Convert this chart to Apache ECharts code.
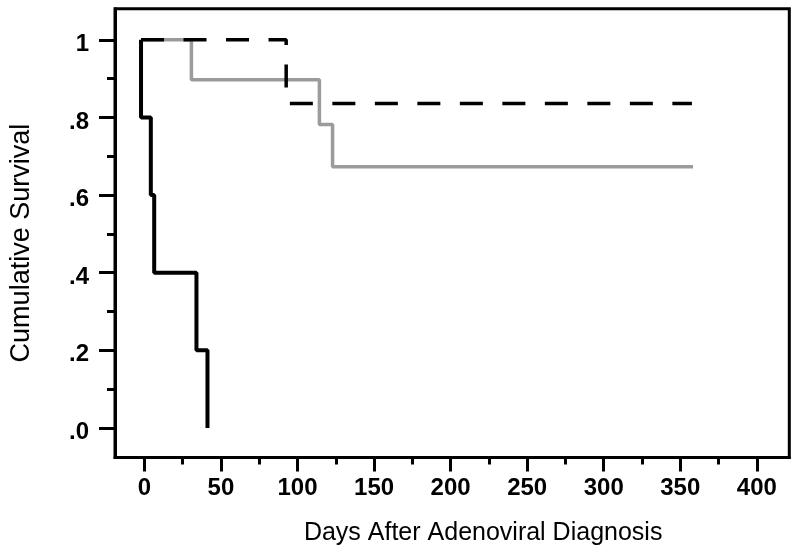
<!DOCTYPE html>
<html>
<head>
<meta charset="utf-8">
<script src="https://cdn.jsdelivr.net/npm/echarts@6/dist/echarts.min.js"></script>
<style>
html,body{margin:0;padding:0;background:#fff;}
#chart{width:800px;height:556px;}
</style>
</head>
<body>
<div id="chart"></div>
<script>
// ---- Data (days, cumulative survival after each step) ----
const grayDays = [-2.2, 30.7, 114.3, 122.9, 358.3];
const graySurv = [1, 0.897, 0.782, 0.673, 0.673];

const dashedDays = [-2.2, 92.6, 357.6];
const dashedSurv = [1, 0.836, 0.836];

const blackDays = [-2.2, -2.2, 4.2, 6.4, 34.0, 41.2];
const blackSurv = [1, 0.8, 0.6, 0.4, 0.2, 0];

// ---- Tick values / labels ----
const xMajorTicks = [0, 50, 100, 150, 200, 250, 300, 350, 400];
const xMinorTicks = [25, 75, 125, 175, 225, 275, 325, 375];
const yMajorTicks = [0, 0.2, 0.4, 0.6, 0.8, 1];
const yMajorLabels = ['.0', '.2', '.4', '.6', '.8', '1'];
const yMinorTicks = [0.1, 0.3, 0.5, 0.7, 0.9];

const xTitle = 'Days After Adenoviral Diagnosis';
const yTitle = 'Cumulative Survival';

function pts(xs, ys) { return xs.map((x, i) => [x, ys[i]]); }

const X_MIN = -19.2, X_MAX = 421.2;
const Y_MIN = -0.076, Y_MAX = 1.08;
const FONT = '"Liberation Sans", Arial, Helvetica, sans-serif';

const chart = echarts.init(document.getElementById('chart'), null, {renderer: 'canvas'});
chart.setOption({
  animation: false,
  backgroundColor: '#fff',
  grid: {
    left: 113.3, right: 10.7, top: 8.7, bottom: 98.5,
    show: true, borderColor: '#000', borderWidth: 3, backgroundColor: 'transparent'
  },
  xAxis: [
    {
      type: 'value', min: X_MIN, max: X_MAX, position: 'bottom',
      axisLine: {show: true, onZero: false, lineStyle: {color: '#000', width: 3}},
      axisTick: {show: true, customValues: xMajorTicks, length: 14, lineStyle: {color: '#000', width: 3}},
      axisLabel: {show: true, customValues: xMajorTicks, margin: 19,
        color: '#000', fontFamily: FONT, fontWeight: 'bold', fontSize: 24},
      splitLine: {show: false},
      name: xTitle, nameLocation: 'middle', nameGap: 63,
      nameTextStyle: {color: '#000', fontFamily: FONT, fontSize: 25, padding: [0, 0, 0, 62]}
    },
    {
      type: 'value', min: X_MIN, max: X_MAX, position: 'bottom', offset: 0,
      axisLine: {show: false, onZero: false},
      axisTick: {show: true, customValues: xMinorTicks, length: 7, lineStyle: {color: '#000', width: 3}},
      axisLabel: {show: false},
      splitLine: {show: false}
    }
  ],
  yAxis: [
    {
      type: 'value', min: Y_MIN, max: Y_MAX, position: 'left',
      axisLine: {show: true, onZero: false, lineStyle: {color: '#000', width: 3}},
      axisTick: {show: true, customValues: yMajorTicks, length: 16, lineStyle: {color: '#000', width: 3}},
      axisLabel: {show: true, customValues: yMajorTicks, margin: 26,
        color: '#000', fontFamily: FONT, fontWeight: 'bold', fontSize: 24,
        verticalAlign: 'top', lineHeight: 9,
        formatter: function (v) {
          const i = yMajorTicks.findIndex(t => Math.abs(t - v) < 1e-6);
          return i >= 0 ? yMajorLabels[i] : '';
        }},
      splitLine: {show: false},
      name: yTitle, nameLocation: 'middle', nameGap: 80, nameRotate: 90,
      nameTextStyle: {color: '#000', fontFamily: FONT, fontSize: 27, padding: [0, 20, 0, 0]}
    },
    {
      type: 'value', min: Y_MIN, max: Y_MAX, position: 'left', offset: 0,
      axisLine: {show: false, onZero: false},
      axisTick: {show: true, customValues: yMinorTicks, length: 8, lineStyle: {color: '#000', width: 3}},
      axisLabel: {show: false},
      splitLine: {show: false}
    }
  ],
  series: [
    {
      type: 'line', step: 'end', data: pts(grayDays, graySurv),
      showSymbol: false, symbol: 'none', clip: false,
      lineStyle: {color: '#9b9b9b', width: 3.5, cap: 'butt'}, z: 2
    },
    {
      type: 'line', step: 'end', data: pts(dashedDays, dashedSurv),
      showSymbol: false, symbol: 'none', clip: false,
      lineStyle: {color: '#000', width: 3.5, type: [23, 19.5], cap: 'butt'}, z: 3
    },
    {
      type: 'line', step: 'end', data: pts(blackDays, blackSurv),
      showSymbol: false, symbol: 'none', clip: false,
      lineStyle: {color: '#000', width: 4, cap: 'butt'}, z: 4
    }
  ]
});
</script>
</body>
</html>
